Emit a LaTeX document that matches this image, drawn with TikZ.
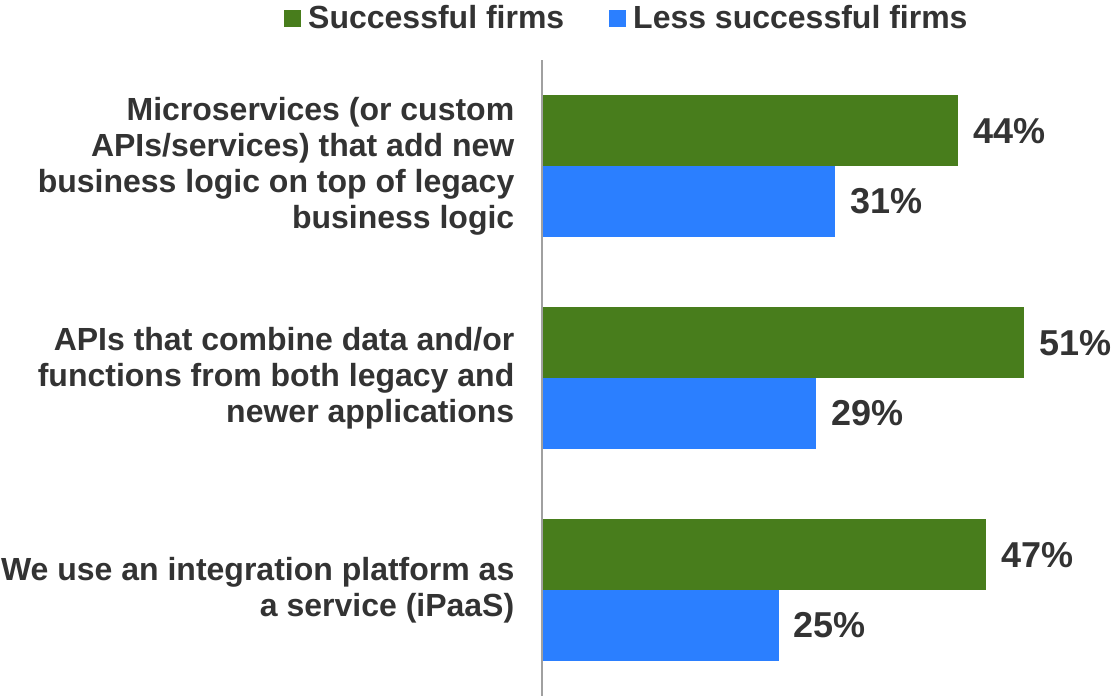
\documentclass[tikz,border=0pt]{standalone}
\usepackage{fontspec}
\setmainfont{Liberation Sans}
\usetikzlibrary{positioning}
\definecolor{firmgreen}{HTML}{487D1C}
\definecolor{firmblue}{HTML}{2B7FFF}
\definecolor{inkgray}{HTML}{333333}
\definecolor{axisgray}{HTML}{A0A0A0}
\begin{document}
\begin{tikzpicture}[x=1pt, y=-1pt, font=\fontsize{32}{36}\selectfont\bfseries, text=inkgray, line join=round, line cap=round]
	\tikzset{bar-good/.style={fill=firmgreen, inner sep=0pt, outer sep=0pt, minimum height=70.7pt, anchor=south west},
		bar-less/.style={fill=firmblue, inner sep=0pt, outer sep=0pt, minimum height=70.7pt, anchor=north west},
		pct-label/.style={font=\fontsize{36}{40}\selectfont\bfseries, inner sep=0pt},
		cat-label/.style={align=right, inner sep=0pt, anchor=east},
		key-box/.style={inner sep=0pt, outer sep=0pt, minimum size=17pt}}
	\useasboundingbox (0,0) rectangle (1114,696);
	% legend
	\node[key-box, fill=firmgreen] (key-good) at (292.5,18.5) {};
	\node[anchor=base west, inner sep=0pt] (key-good-txt) at (308,28) {Successful firms};
	\node[key-box, fill=firmblue] (key-less) at (617.5,18.5) {};
	\node[anchor=base west, inner sep=0pt] (key-less-txt) at (633,28) {Less successful firms};
	% axis
	\coordinate (axis-top) at (541.5,60);
	\coordinate (axis-bot) at (541.5,696);
	\draw[axisgray, line width=2pt, line cap=butt] (axis-top)--(axis-bot);
	% bars
	\foreach \i/\a/\b in {1/44/31,2/51/29,3/47/25}{
		\pgfmathsetmacro\cy{60+212*(\i-0.5)}
		\pgfmathsetmacro\wa{\a*9.44}
		\pgfmathsetmacro\wb{\b*9.44}
		\node[bar-good, minimum width=\wa pt] (good\i) at (542.5,\cy) {};
		\node[bar-less, minimum width=\wb pt] (less\i) at (542.5,\cy) {};
		\node[pct-label, right=15pt of good\i] (pgood\i) {\a\%};
		\node[pct-label, right=15pt of less\i] (pless\i) {\b\%};
	}
	\node[cat-label, left=28pt of good1.south west] (cat1) {Microservices (or custom\\APIs/services) that add new\\business logic on top of legacy\\business logic};
	\node[cat-label, left=28pt of good2.south west] (cat2) {APIs that combine data and/or\\functions from both legacy and\\newer applications};
	\node[cat-label, left=28pt of good3.south west] (cat3) {We use an integration platform as\\a service (iPaaS)};
\end{tikzpicture}
\end{document}
